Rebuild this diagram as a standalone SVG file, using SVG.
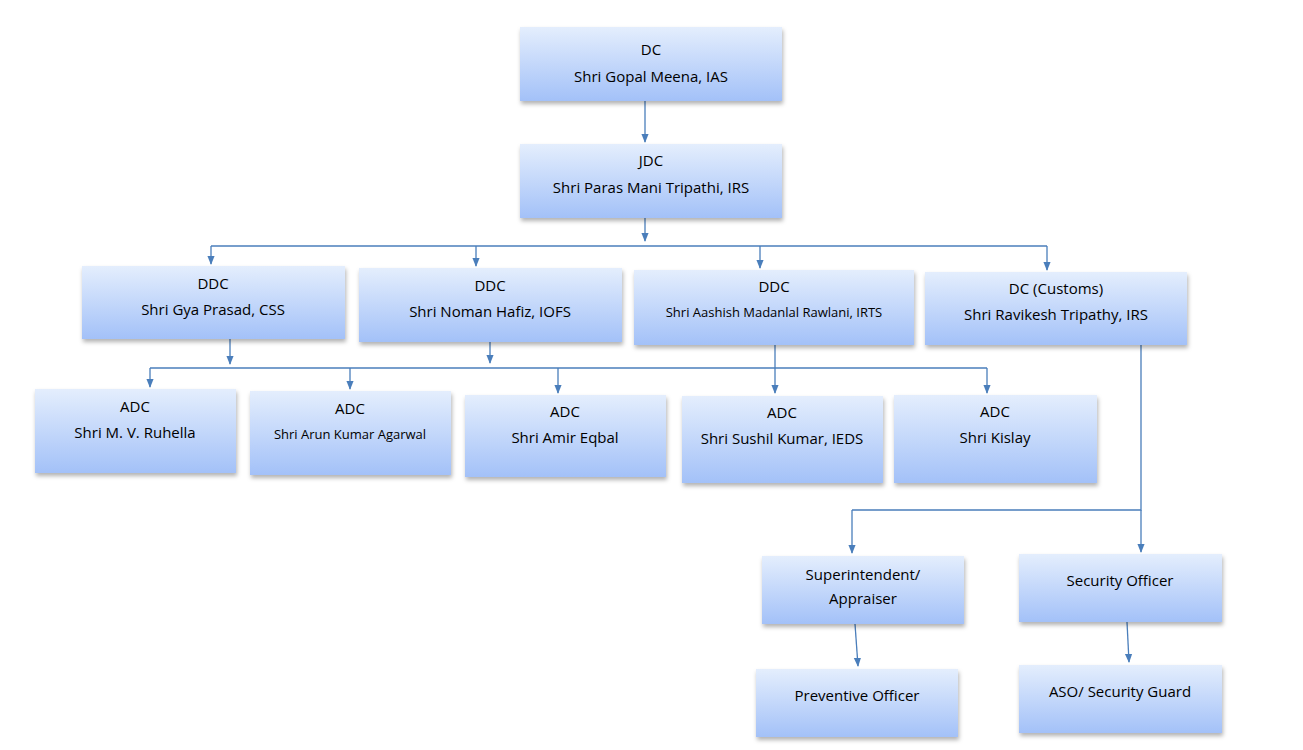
<svg xmlns="http://www.w3.org/2000/svg" width="1303" height="750" viewBox="0 0 1303 750">
<defs>
<linearGradient id="g" x1="0" y1="0" x2="0" y2="1"><stop offset="0" stop-color="#e4eefd"/><stop offset="1" stop-color="#a3c1f8"/></linearGradient>
<filter id="s" x="-10%" y="-20%" width="120%" height="150%"><feDropShadow dx="1" dy="3" stdDeviation="2" flood-color="#000" flood-opacity="0.3"/></filter>
<marker id="a" viewBox="0 0 10 10" refX="9" refY="5" markerWidth="7" markerHeight="7" orient="auto"><path d="M0,1 L10,5 L0,9 Z" fill="#4a7ebb"/></marker>
</defs>
<style>
rect{fill:url(#g);filter:url(#s)}
text{font-family:"Open Sans","Liberation Sans",sans-serif;font-size:15px;fill:#000;text-anchor:middle}
.sm{font-size:13px}
#connectors path{fill:none;stroke:#4a7ebb;stroke-width:1.3}
.ar{marker-end:url(#a)}
</style>
<rect width="1303" height="750" fill="#fff" style="fill:#fff;filter:none"/>
<g id="connectors">
<path class="ar" d="M645,101V142"/>
<path class="ar" d="M645,218V241"/>
<path d="M211,246H1047"/>
<path class="ar" d="M211,246V264"/>
<path class="ar" d="M476,246V266"/>
<path class="ar" d="M760,246V268"/>
<path class="ar" d="M1047,246V270"/>
<path class="ar" d="M230,339V364"/>
<path class="ar" d="M490,342V363"/>
<path d="M775,345V368"/>
<path d="M150,368H987"/>
<path class="ar" d="M150,368V387"/>
<path class="ar" d="M350,368V389"/>
<path class="ar" d="M558,368V393"/>
<path class="ar" d="M775,368V393"/>
<path class="ar" d="M987,368V393"/>
<path d="M1141,345V510H852"/>
<path class="ar" d="M852,510V553"/>
<path class="ar" d="M1141,510V552"/>
<path class="ar" d="M855,624L858,666"/>
<path class="ar" d="M1127,622L1129,662"/>
</g>
<g id="dc"><rect x="520" y="27" width="262" height="74"/><text x="651" y="55">DC</text><text x="651" y="82">Shri Gopal Meena, IAS</text></g>
<g id="jdc"><rect x="520" y="144" width="262" height="74"/><text x="651" y="166">JDC</text><text x="651" y="193">Shri Paras Mani Tripathi, IRS</text></g>
<g id="ddc1"><rect x="82" y="266" width="263" height="73"/><text x="213" y="289">DDC</text><text x="213" y="315">Shri Gya Prasad, CSS</text></g>
<g id="ddc2"><rect x="359" y="268" width="263" height="74"/><text x="490" y="291">DDC</text><text x="490" y="317">Shri Noman Hafiz, IOFS</text></g>
<g id="ddc3"><rect x="634" y="270" width="280" height="75"/><text x="774" y="292">DDC</text><text class="sm" x="774" y="317">Shri Aashish Madanlal Rawlani, IRTS</text></g>
<g id="dccustoms"><rect x="925" y="272" width="262" height="73"/><text x="1056" y="294">DC (Customs)</text><text x="1056" y="320">Shri Ravikesh Tripathy, IRS</text></g>
<g id="adc1"><rect x="35" y="389" width="201" height="84"/><text x="135" y="412">ADC</text><text x="135" y="438">Shri M. V. Ruhella</text></g>
<g id="adc2"><rect x="250" y="391" width="201" height="84"/><text x="350" y="414">ADC</text><text class="sm" x="350" y="439">Shri Arun Kumar Agarwal</text></g>
<g id="adc3"><rect x="465" y="395" width="201" height="82"/><text x="565" y="417">ADC</text><text x="565" y="443">Shri Amir Eqbal</text></g>
<g id="adc4"><rect x="682" y="396" width="201" height="87"/><text x="782" y="418">ADC</text><text x="782" y="444">Shri Sushil Kumar, IEDS</text></g>
<g id="adc5"><rect x="894" y="395" width="203" height="88"/><text x="995" y="417">ADC</text><text x="995" y="443">Shri Kislay</text></g>
<g id="supt"><rect x="762" y="556" width="202" height="68"/><text x="863" y="580">Superintendent/</text><text x="863" y="604">Appraiser</text></g>
<g id="secofficer"><rect x="1019" y="554" width="203" height="68"/><text x="1120" y="586">Security Officer</text></g>
<g id="prevofficer"><rect x="756" y="669" width="202" height="68"/><text x="857" y="701">Preventive Officer</text></g>
<g id="aso"><rect x="1019" y="665" width="203" height="68"/><text x="1120" y="697">ASO/ Security Guard</text></g>
</svg>
